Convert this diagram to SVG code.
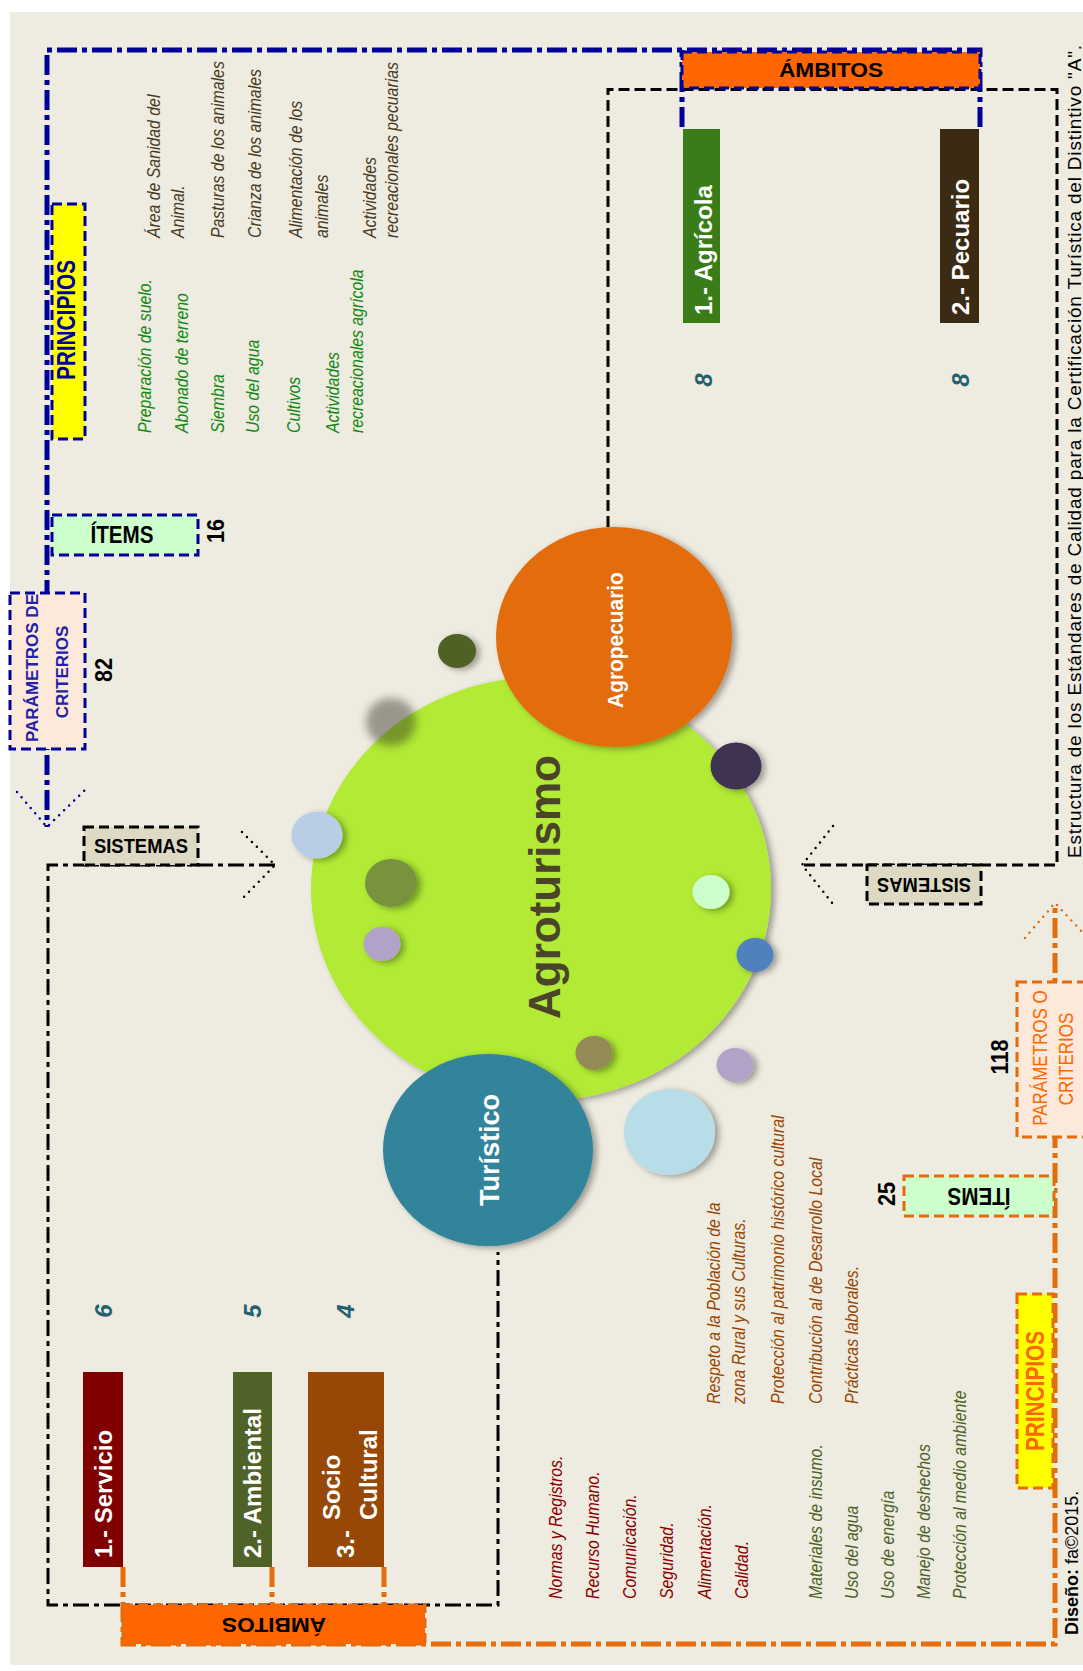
<svg xmlns="http://www.w3.org/2000/svg" width="1083" height="1671" viewBox="0 0 1083 1671">
<defs>
<style>
text{font-family:"Liberation Sans",Arial,sans-serif}
.b{font-weight:bold}
.it{font-style:italic;font-size:18px}
.gr{fill:#128A12}
.br{fill:#4A3B1F}
.rd{fill:#8B0000}
.ol{fill:#4F6228}
.sc{fill:#984806}
.num{font-weight:bold;font-size:24px;fill:#000;text-anchor:middle}
.tn{font-weight:bold;font-style:italic;font-size:24px;fill:#23616F;text-anchor:middle}
.wl{fill:#fff;font-weight:bold;font-size:24px}
.mid{text-anchor:middle}
.bf{fill:none;stroke:#000099;stroke-width:5;stroke-dasharray:20 5 5 5}
.of{fill:none;stroke:#E46C0A;stroke-width:5;stroke-dasharray:20 5 5 5}
.kd{fill:none;stroke:#000;stroke-width:3;stroke-dasharray:11 5}
.kdd{fill:none;stroke:#000;stroke-width:3;stroke-dasharray:16 5 5 5}
.dk{fill:none;stroke:#000;stroke-width:2.5;stroke-linecap:round;stroke-dasharray:0 7}
.db{fill:none;stroke:#000099;stroke-width:2.5;stroke-linecap:round;stroke-dasharray:0 7}
.do{fill:none;stroke:#E46C0A;stroke-width:2.5;stroke-linecap:round;stroke-dasharray:0 7}
.nbox{stroke:#000099;stroke-width:3;stroke-dasharray:10 5}
.obox{stroke:#E46C0A;stroke-width:3;stroke-dasharray:10 5}
.kbox{stroke:#000;stroke-width:3;stroke-dasharray:10 5}
</style>
<filter id="sh" x="-20%" y="-20%" width="150%" height="150%">
<feDropShadow dx="4" dy="2" stdDeviation="3" flood-color="#000" flood-opacity="0.35"/>
</filter>
<filter id="bl" x="-50%" y="-50%" width="200%" height="200%">
<feGaussianBlur stdDeviation="4"/>
</filter>
</defs>

<rect x="0" y="0" width="1083" height="1671" fill="#fff"/>
<rect x="10" y="12" width="1073" height="1653" fill="#EEEBE0"/>

<g id="connectors">
<path class="kd" d="M608,527 V89.5 H1057 V865 H802"/>
<path class="kdd" d="M275,865 H48 V1605 H498 V1252"/>
<path class="bf" d="M682,127 V50 M980,127 V50 H47 V827"/>
<path class="of" d="M123,1567 V1644 H1055 V903 M272,1567 V1605 M384,1567 V1605"/>
<path class="db" d="M17,792 L47,827 L88,787"/>
<path class="dk" d="M242,832 L275,865 L242,899"/>
<path class="dk" d="M833,826 L802,865 L833,904"/>
<path class="do" d="M1025,938 L1055,903 L1085,935"/>
</g>

<g id="agroturismo">
<ellipse cx="541" cy="889" rx="230" ry="212" fill="#B2EA34" filter="url(#sh)"/>
<text class="b" transform="translate(560,887) rotate(-90)" text-anchor="middle" font-size="44" fill="#4A452A">Agroturismo</text>
</g>
<g id="agropecuario">
<ellipse cx="614" cy="637" rx="118" ry="110" fill="#E36C09" filter="url(#sh)"/>
<text class="b" transform="translate(623,640) rotate(-90) scale(0.95,1)" text-anchor="middle" font-size="22" fill="#fff">Agropecuario</text>
</g>
<g id="turistico">
<ellipse cx="488" cy="1150" rx="105" ry="96" fill="#31849B" filter="url(#sh)"/>
<text class="b" transform="translate(499,1150) rotate(-90)" text-anchor="middle" font-size="27" fill="#fff">Turístico</text>
</g>

<g id="burbujas">
<ellipse cx="457" cy="651" rx="19" ry="17" fill="#4F6228" filter="url(#sh)"/>
<ellipse cx="391" cy="722" rx="25" ry="24" fill="#2B2B1C" opacity="0.43" filter="url(#bl)"/>
<ellipse cx="317" cy="835" rx="25.5" ry="23.5" fill="#B9CDE5" filter="url(#sh)"/>
<ellipse cx="391" cy="883" rx="26" ry="24" fill="#77933C" filter="url(#sh)"/>
<ellipse cx="382" cy="944" rx="18.5" ry="17" fill="#B3A2C7" filter="url(#sh)"/>
<ellipse cx="736" cy="766" rx="25.5" ry="23.5" fill="#403151" filter="url(#sh)"/>
<ellipse cx="711" cy="892" rx="18.5" ry="17" fill="#CCFFCC" filter="url(#sh)"/>
<ellipse cx="755" cy="955" rx="18.5" ry="17" fill="#4F81BD" filter="url(#sh)"/>
<ellipse cx="594" cy="1053" rx="18.5" ry="17" fill="#948A54" filter="url(#sh)"/>
<ellipse cx="735" cy="1065" rx="18.5" ry="17" fill="#B3A2C7" filter="url(#sh)"/>
<ellipse cx="669.5" cy="1132" rx="45.5" ry="43" fill="#B7DEE8" filter="url(#sh)"/>
</g>

<g id="ambitos-agropecuario">
<rect x="682" y="52" width="298" height="36" fill="#FF6600" class="nbox"/>
<text class="b mid" x="831" y="77" font-size="21" textLength="104" lengthAdjust="spacingAndGlyphs">ÁMBITOS</text>
</g>
<g id="agricola">
<rect x="683" y="129" width="37" height="194" fill="#3A7D18"/>
<text class="wl" transform="translate(712,315) rotate(-90)">1.- Agrícola</text>
<text class="tn" transform="translate(712,380) rotate(-90)">8</text>
</g>
<g id="pecuario">
<rect x="940" y="129" width="39" height="194" fill="#3B2A14"/>
<text class="wl" transform="translate(969,315) rotate(-90)">2.- Pecuario</text>
<text class="tn" transform="translate(969,380) rotate(-90)">8</text>
</g>

<g id="principios-agropecuario">
<rect x="52" y="204" width="33" height="235" fill="#FFFF00" class="nbox"/>
<text class="b" transform="translate(75,320) rotate(-90) scale(0.8,1)" text-anchor="middle" font-size="26" fill="#000099">PRINCIPIOS</text>
</g>
<g id="items-agropecuario">
<rect x="52" y="515" width="146" height="40" fill="#CCFFCC" class="nbox"/>
<text class="b mid" x="122" y="543" font-size="23" textLength="63" lengthAdjust="spacingAndGlyphs">ÍTEMS</text>
<text class="num" transform="translate(224,531) rotate(-90) scale(0.9,1)">16</text>
</g>
<g id="parametros-agropecuario">
<rect x="10" y="593" width="75" height="156" fill="#FDE9D9" class="nbox"/>
<text class="b" transform="translate(38,742) rotate(-90)" font-size="17" fill="#2222AA">PARÁMETROS DE</text>
<text class="b" transform="translate(68,672) rotate(-90)" text-anchor="middle" font-size="17" fill="#2222AA">CRITERIOS</text>
<text class="num" transform="translate(112,670) rotate(-90) scale(0.9,1)">82</text>
</g>
<g id="sistemas-turistico">
<rect x="84" y="827" width="114" height="38" fill="#DDD9C3" class="kbox"/>
<text class="b mid" x="141" y="853" font-size="20" textLength="94" lengthAdjust="spacingAndGlyphs">SISTEMAS</text>
</g>
<g id="sistemas-agropecuario">
<rect x="867" y="865" width="114" height="39" fill="#DDD9C3" class="kbox"/>
<text class="b mid" transform="translate(924,884.5) rotate(180)" y="7" font-size="20" textLength="94" lengthAdjust="spacingAndGlyphs">SISTEMAS</text>
</g>

<g id="lista-agricola">
<text class="it gr" transform="translate(151,433) rotate(-90) scale(0.88,1)">Preparación de suelo.</text>
<text class="it gr" transform="translate(188,433) rotate(-90) scale(0.88,1)">Abonado de terreno</text>
<text class="it gr" transform="translate(224,433) rotate(-90) scale(0.88,1)">Siembra</text>
<text class="it gr" transform="translate(259,433) rotate(-90) scale(0.88,1)">Uso del agua</text>
<text class="it gr" transform="translate(300,433) rotate(-90) scale(0.88,1)">Cultivos</text>
<text class="it gr" transform="translate(339,433) rotate(-90) scale(0.88,1)">Actividades</text>
<text class="it gr" transform="translate(363,433) rotate(-90) scale(0.88,1)">recreacionales agrícola</text>
</g>
<g id="lista-pecuaria">
<text class="it br" transform="translate(160,238) rotate(-90) scale(0.88,1)">Área de Sanidad del</text>
<text class="it br" transform="translate(184,238) rotate(-90) scale(0.88,1)">Animal.</text>
<text class="it br" transform="translate(224,238) rotate(-90) scale(0.88,1)">Pasturas de los animales</text>
<text class="it br" transform="translate(261,238) rotate(-90) scale(0.88,1)">Crianza de los animales</text>
<text class="it br" transform="translate(302,238) rotate(-90) scale(0.88,1)">Alimentación de los</text>
<text class="it br" transform="translate(328,238) rotate(-90) scale(0.88,1)">animales</text>
<text class="it br" transform="translate(376,238) rotate(-90) scale(0.88,1)">Actividades</text>
<text class="it br" transform="translate(398,238) rotate(-90) scale(0.88,1)">recreacionales pecuarias</text>
</g>

<g id="servicio">
<rect x="83" y="1372" width="40" height="195" fill="#800000"/>
<text class="wl" transform="translate(112,1558) rotate(-90)">1.- Servicio</text>
<text class="tn" transform="translate(112,1311) rotate(-90)">6</text>
</g>
<g id="ambiental">
<rect x="233" y="1372" width="39" height="195" fill="#4F6228"/>
<text class="wl" transform="translate(261,1558) rotate(-90)">2.- Ambiental</text>
<text class="tn" transform="translate(261,1311) rotate(-90)">5</text>
</g>
<g id="sociocultural">
<rect x="308" y="1372" width="76" height="195" fill="#974806"/>
<text class="wl" transform="translate(340,1520) rotate(-90)">Socio</text>
<text class="wl" transform="translate(354,1558) rotate(-90)">3.-</text>
<text class="wl" transform="translate(377,1520) rotate(-90)">Cultural</text>
<text class="tn" transform="translate(354,1311) rotate(-90)">4</text>
</g>
<g id="ambitos-turistico">
<rect x="123" y="1605" width="302" height="39" fill="#FF6600" class="obox"/>
<text class="b mid" transform="translate(274,1625) rotate(180)" y="7.5" font-size="21" textLength="104" lengthAdjust="spacingAndGlyphs">ÁMBITOS</text>
</g>

<g id="lista-servicio">
<text class="it rd" transform="translate(562,1599) rotate(-90) scale(0.88,1)">Normas y Registros.</text>
<text class="it rd" transform="translate(599,1599) rotate(-90) scale(0.88,1)">Recurso Humano.</text>
<text class="it rd" transform="translate(636,1599) rotate(-90) scale(0.88,1)">Comunicación.</text>
<text class="it rd" transform="translate(673,1599) rotate(-90) scale(0.88,1)">Seguridad.</text>
<text class="it rd" transform="translate(711,1599) rotate(-90) scale(0.88,1)">Alimentación.</text>
<text class="it rd" transform="translate(748,1599) rotate(-90) scale(0.88,1)">Calidad.</text>
</g>
<g id="lista-ambiental">
<text class="it ol" transform="translate(822,1599) rotate(-90) scale(0.88,1)">Materiales de insumo.</text>
<text class="it ol" transform="translate(858,1599) rotate(-90) scale(0.88,1)">Uso del agua</text>
<text class="it ol" transform="translate(894,1599) rotate(-90) scale(0.88,1)">Uso de energía</text>
<text class="it ol" transform="translate(930,1599) rotate(-90) scale(0.88,1)">Manejo de deshechos</text>
<text class="it ol" transform="translate(966,1599) rotate(-90) scale(0.88,1)">Protección al medio ambiente</text>
</g>
<g id="lista-sociocultural">
<text class="it sc" transform="translate(720,1404) rotate(-90) scale(0.88,1)">Respeto a la Población de la</text>
<text class="it sc" transform="translate(745,1404) rotate(-90) scale(0.88,1)">zona Rural y sus Culturas.</text>
<text class="it sc" transform="translate(784,1404) rotate(-90) scale(0.88,1)">Protección al patrimonio histórico cultural</text>
<text class="it sc" transform="translate(822,1404) rotate(-90) scale(0.88,1)">Contribución al de Desarrollo Local</text>
<text class="it sc" transform="translate(858,1404) rotate(-90) scale(0.88,1)">Prácticas laborales.</text>
</g>

<g id="items-turistico">
<rect x="904" y="1176" width="150" height="40" fill="#CCFFCC" class="obox"/>
<text class="b mid" transform="translate(979,1196) rotate(180)" y="8" font-size="23" textLength="63" lengthAdjust="spacingAndGlyphs">ÍTEMS</text>
<text class="num" transform="translate(895,1194) rotate(-90) scale(0.9,1)">25</text>
</g>
<g id="principios-turistico">
<rect x="1017" y="1294" width="36" height="194" fill="#FFFF00" class="obox"/>
<text class="b" transform="translate(1044,1391) rotate(-90) scale(0.8,1)" text-anchor="middle" font-size="26" fill="#FF6600">PRINCIPIOS</text>
</g>
<g id="parametros-turistico">
<rect x="1017" y="982" width="80" height="155" fill="#FDE9D9" class="obox"/>
<text transform="translate(1047,1058) rotate(-90) scale(0.85,1)" text-anchor="middle" font-size="20" fill="#FF6600">PARÁMETROS O</text>
<text transform="translate(1073,1059) rotate(-90) scale(0.85,1)" text-anchor="middle" font-size="20" fill="#FF6600">CRITERIOS</text>
<text class="num" transform="translate(1008,1057) rotate(-90) scale(0.9,1)">118</text>
</g>

<g id="titulo">
<text transform="translate(1081,858) rotate(-90)" font-size="19" fill="#000" textLength="813" lengthAdjust="spacing">Estructura de los Estándares de Calidad para la Certificación Turística del Distintivo "A".</text>
</g>
<g id="credito">
<text transform="translate(1078,1635) rotate(-90)" font-size="18" fill="#000"><tspan font-weight="bold">Diseño:</tspan> fa©2015.</text>
</g>
</svg>
